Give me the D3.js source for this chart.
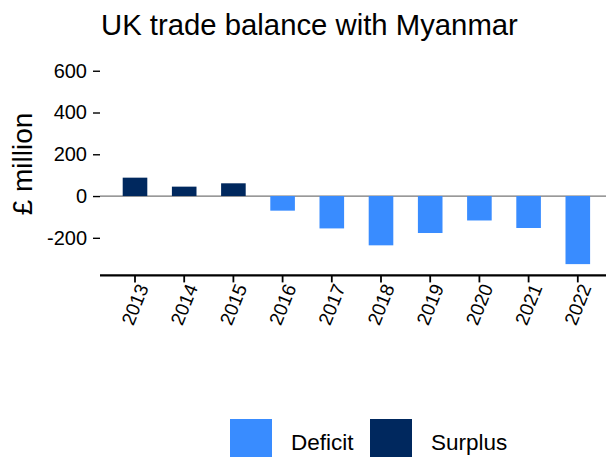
<!DOCTYPE html>
<html>
<head>
<meta charset="utf-8">
<script src="https://cdn.jsdelivr.net/npm/d3@7"></script>
<style>
  body { margin: 0; background: #fff; }
  text { font-family: "Liberation Sans", Arial, sans-serif; fill: #000; }
</style>
</head>
<body>
<script>
var years = ["2013", "2014", "2015", "2016", "2017", "2018", "2019", "2020", "2021", "2022"];
var balance = [88, 45, 61, -70, -155, -236, -177, -117, -153, -326];
var yTicks = [-200, 0, 200, 400, 600];
var legendKeys = ["Deficit", "Surplus"];

var width = 606, height = 457;
var colours = { Deficit: "#398cff", Surplus: "#00285e" };

var svg = d3.select("body").append("svg")
    .attr("width", width)
    .attr("height", height);

// scales
var x = d3.scaleBand()
    .domain(years)
    .range([110.4, 602.4])
    .paddingInner(0.5)
    .paddingOuter(0.25);

var y = d3.scaleLinear()
    .domain([-380, 650])
    .range([275.4, 60.3]);

// title
svg.append("text")
    .attr("x", 101)
    .attr("y", 35)
    .style("font-size", "29.3px")
    .text("UK trade balance with Myanmar");

// y axis label
svg.append("text")
    .attr("transform", "translate(32," + 164 + ") rotate(-90)")
    .attr("text-anchor", "middle")
    .style("font-size", "28px")
    .text("£ million");

// y axis (ticks + labels, no line)
var yAxis = svg.append("g")
    .attr("transform", "translate(100,0)")
    .call(d3.axisLeft(y).tickValues(yTicks).tickSize(7).tickPadding(6)
        .tickFormat(function(d) { return String(d); }));
yAxis.select(".domain").remove();
yAxis.selectAll(".tick line").attr("stroke", "#000").attr("stroke-width", 1.4);
yAxis.selectAll(".tick text")
    .style("font-size", "20px")
    .style("font-family", "'Liberation Sans', Arial, sans-serif")
    .attr("fill", "#000");

// zero line
svg.append("line")
    .attr("x1", 100).attr("x2", width)
    .attr("y1", y(0)).attr("y2", y(0))
    .attr("stroke", "#777")
    .attr("stroke-width", 1.2);

// bars
var data = years.map(function(d, i) { return { year: d, value: balance[i] }; });
svg.selectAll(".bar")
    .data(data)
    .enter().append("rect")
    .attr("class", "bar")
    .attr("x", function(d) { return x(d.year); })
    .attr("width", x.bandwidth())
    .attr("y", function(d) { return y(Math.max(0, d.value)); })
    .attr("height", function(d) { return Math.abs(y(d.value) - y(0)); })
    .attr("fill", function(d) { return d.value < 0 ? colours.Deficit : colours.Surplus; });

// x axis
var xAxis = svg.append("g")
    .attr("transform", "translate(0," + y(-380) + ")")
    .call(d3.axisBottom(x).tickSize(7).tickSizeOuter(0));
xAxis.select(".domain")
    .attr("d", "M100,0H" + width)
    .attr("stroke", "#000")
    .attr("stroke-width", 2.4);
xAxis.selectAll(".tick line").attr("stroke", "#000").attr("stroke-width", 1.8);
xAxis.selectAll(".tick text")
    .style("font-size", "19px")
    .style("font-family", "'Liberation Sans', Arial, sans-serif")
    .attr("fill", "#000")
    .attr("text-anchor", "end")
    .attr("dy", null)
    .attr("y", 0)
    .attr("transform", "translate(14,12) rotate(-68)");

// legend
var legend = svg.append("g");
var legendX = [230, 370];
legendKeys.forEach(function(k, i) {
    legend.append("rect")
        .attr("x", legendX[i])
        .attr("y", 419)
        .attr("width", 42)
        .attr("height", 42)
        .attr("fill", colours[k]);
    legend.append("text")
        .attr("x", legendX[i] + 61)
        .attr("y", 450)
        .style("font-size", "22.5px")
        .text(k);
});
</script>
</body>
</html>
